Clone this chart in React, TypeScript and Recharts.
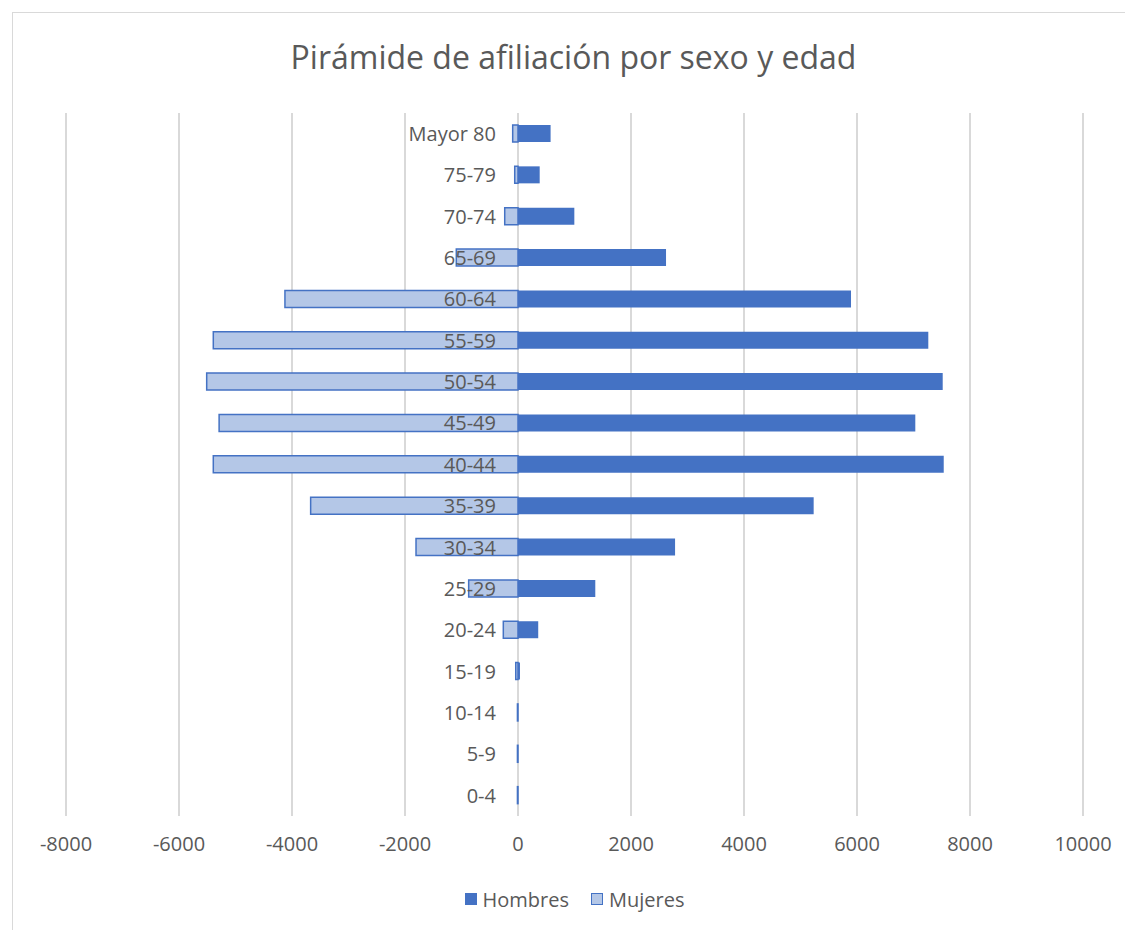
import React from 'react';
import {
  BarChart,
  Bar,
  XAxis,
  YAxis,
  CartesianGrid,
  Legend,
  LabelList,
} from 'recharts';

const ageGroups = [
  'Mayor 80', '75-79', '70-74', '65-69', '60-64', '55-59', '50-54', '45-49',
  '40-44', '35-39', '30-34', '25-29', '20-24', '15-19', '10-14', '5-9', '0-4',
];
const hombres = [577, 384, 997, 2620, 5894, 7262, 7517, 7032, 7535, 5233, 2780, 1368, 358, 35, 0, 0, 0];
const mujeres = [-94, -58, -235, -1092, -4125, -5393, -5510, -5290, -5393, -3670, -1805, -873, -260, -40, -10, -10, -10];
const xTicks = [-8000, -6000, -4000, -2000, 0, 2000, 4000, 6000, 8000, 10000];

const data = ageGroups.map((age, i) => ({
  age,
  Hombres: hombres[i],
  Mujeres: mujeres[i],
}));

const FONT = '"Open Sans", sans-serif';
const TEXT = '#595959';
const DARK = '#4472c4';
const LIGHT = '#b4c7e7';

// age label sits just left of the zero line, like Excel's "next to axis"
const renderAgeLabel = (props: any) => {
  const vb = props.viewBox || {};
  const x = props.x ?? vb.x;
  const y = props.y ?? vb.y;
  const w = props.width ?? vb.width ?? 0;
  const h = props.height ?? vb.height ?? 0;
  const zero = Math.max(x, x + w);
  return (
    <text
      x={zero - 22}
      y={y + h / 2}
      textAnchor="end"
      dominantBaseline="central"
      fill={TEXT}
      fontSize={20}
      fontFamily={FONT}
    >
      {props.value}
    </text>
  );
};

const renderLegend = () => (
  <div
    style={{
      display: 'flex',
      justifyContent: 'center',
      alignItems: 'center',
      height: 40,
      fontFamily: FONT,
      fontSize: 20,
      color: TEXT,
    }}
  >
    <span style={{ display: 'flex', alignItems: 'center', marginRight: 22 }}>
      <span style={{ width: 12, height: 12, background: DARK, marginRight: 6 }} />
      Hombres
    </span>
    <span style={{ display: 'flex', alignItems: 'center' }}>
      <span
        style={{
          width: 10,
          height: 10,
          background: LIGHT,
          border: `1.5px solid ${DARK}`,
          marginRight: 6,
        }}
      />
      Mujeres
    </span>
  </div>
);

export default function App() {
  return (
    <div
      style={{
        position: 'relative',
        top: 4,
        left: 4,
        width: 1130,
        height: 930,
        border: '1px solid #d9d9d9',
        boxSizing: 'border-box',
        background: '#fff',
      }}
    >
      <div
        style={{
          position: 'absolute',
          top: 22,
          left: 0,
          width: 1121,
          textAlign: 'center',
          fontFamily: FONT,
          fontSize: 32,
          color: TEXT,
        }}
      >
        Pirámide de afiliación por sexo y edad
      </div>
      <BarChart
        width={1121}
        height={918}
        data={data}
        layout="vertical"
        stackOffset="sign"
        barSize={17}
        margin={{ top: 100, right: 51, left: 53, bottom: 12 }}
      >
        <CartesianGrid horizontal={false} stroke="#d9d9d9" strokeWidth={2} />
        <XAxis
          type="number"
          domain={[-8000, 10000]}
          ticks={xTicks}
          axisLine={false}
          tickLine={false}
          tickMargin={15}
          height={63}
          tick={{ fill: TEXT, fontSize: 20, fontFamily: FONT }}
        />
        <YAxis type="category" dataKey="age" hide />
        <Legend verticalAlign="bottom" content={renderLegend} />
        <Bar dataKey="Hombres" stackId="pop" fill={DARK} isAnimationActive={false} />
        <Bar
          dataKey="Mujeres"
          stackId="pop"
          fill={LIGHT}
          stroke={DARK}
          strokeWidth={1.5}
          isAnimationActive={false}
        >
          <LabelList dataKey="age" content={renderAgeLabel} />
        </Bar>
      </BarChart>
    </div>
  );
}
